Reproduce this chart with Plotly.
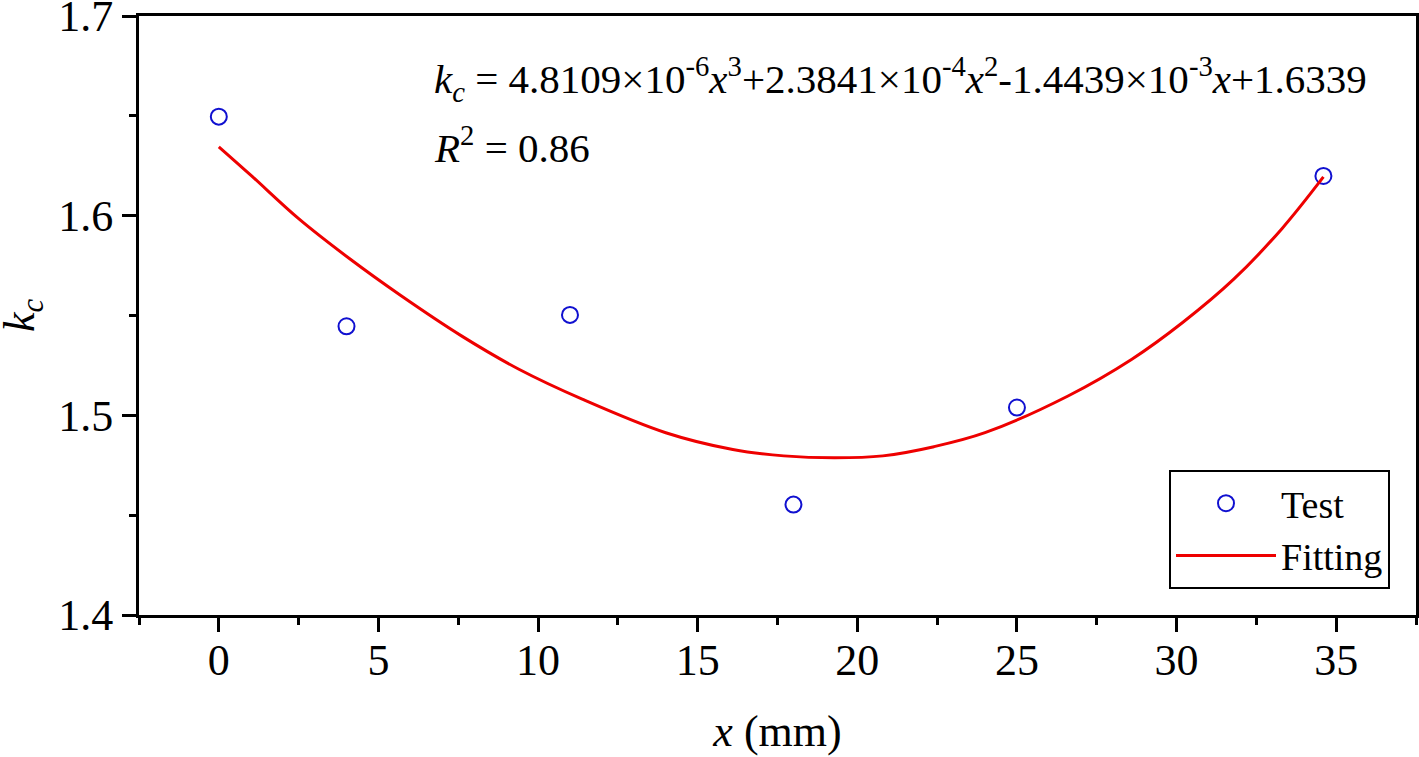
import plotly.graph_objects as go

# Test data
test_x = [0, 4, 11, 18, 25, 34.6]
test_y = [1.6496, 1.5446, 1.5503, 1.4553, 1.5039, 1.6199]

# Fitting curve
fit_x = [0, 1, 2.5, 4.1, 5.7, 7.6, 9.4, 11.4, 14.0, 16.1, 17.7, 19.3,
         20.8, 22.4, 24.0, 26.6, 28.6, 30.2, 31.8, 33.3, 34.6]
fit_y = [1.6345, 1.6203, 1.5985, 1.5784, 1.5600, 1.5398, 1.5231, 1.5080,
         1.4913, 1.4829, 1.4797, 1.4787, 1.4797, 1.4843, 1.4913, 1.5097,
         1.5281, 1.5466, 1.5683, 1.5935, 1.6194]

x_ticks = [0, 5, 10, 15, 20, 25, 30, 35]
y_ticks = [1.4, 1.5, 1.6, 1.7]
y_labels = ["1.4", "1.5", "1.6", "1.7"]

FONT = "Liberation Serif"

fig = go.Figure()
fig.add_trace(go.Scatter(
    x=test_x, y=test_y, mode="markers", name="Test",
    marker=dict(symbol="circle-open", size=16, color="#1010d0", line=dict(width=2, color="#1010d0")),
))
fig.add_trace(go.Scatter(
    x=fit_x, y=fit_y, mode="lines", name="Fitting",
    line=dict(color="#ee0000", width=3, shape="spline", smoothing=1.0),
))

fig.update_layout(
    width=1419, height=757, autosize=False,
    margin=dict(l=139, r=3, t=16, b=142),
    paper_bgcolor="white", plot_bgcolor="white",
    font=dict(family=FONT, size=44, color="black"),
    showlegend=True,
    legend=dict(
        x=(1169 - 139) / 1277, y=(615 - 470) / 599, xanchor="left", yanchor="top",
        bordercolor="black", borderwidth=2, bgcolor="white",
        font=dict(family=FONT, size=38, color="black"),
        itemwidth=100, tracegroupgap=0,
    ),
    xaxis=dict(
        range=[-2.5, 37.5], tickvals=x_ticks, automargin=False,
        showline=True, linecolor="black", linewidth=3, mirror=True,
        ticks="outside", ticklen=14, tickwidth=3, tickcolor="black",
        ticklabelstandoff=-10, ticklabeloverflow="allow",
        showgrid=False, zeroline=False,
        tickfont=dict(family=FONT, size=44),
        minor=dict(dtick=2.5, tick0=0, ticks="outside", ticklen=7, tickwidth=3, tickcolor="black", showgrid=False),
        title=dict(text="<i>x</i> (mm)", font=dict(family=FONT, size=44), standoff=32),
    ),
    yaxis=dict(
        range=[1.4, 1.7], tickvals=y_ticks, ticktext=y_labels, automargin=False,
        showline=True, linecolor="black", linewidth=3, mirror=True,
        ticks="outside", ticklen=14, tickwidth=3, tickcolor="black",
        ticklabeloverflow="allow",
        showgrid=False, zeroline=False,
        tickfont=dict(family=FONT, size=44),
        minor=dict(dtick=0.05, tick0=1.4, ticks="outside", ticklen=7, tickwidth=3, tickcolor="black", showgrid=False),
    ),
)

# y-axis title
fig.add_annotation(
    xref="paper", yref="paper", x=(22 - 139) / 1277, y=(615 - 315) / 599,
    xanchor="center", yanchor="middle", showarrow=False, textangle=-90,
    text="<i>k</i><sub><i>c</i></sub>",
    font=dict(family=FONT, size=44, color="black"),
)

fig.add_annotation(
    xref="paper", yref="paper", x=(432 - 139) / 1277, y=(615 - 79) / 599,
    xanchor="left", yanchor="middle", showarrow=False,
    text="<i>k</i><sub><i>c</i></sub> = 4.8109×10<sup>-6</sup><i>x</i><sup>3</sup>+2.3841×10<sup>-4</sup><i>x</i><sup>2</sup>-1.4439×10<sup>-3</sup><i>x</i>+1.6339",
    font=dict(family=FONT, size=41, color="black"),
)
fig.add_annotation(
    xref="paper", yref="paper", x=(432 - 139) / 1277, y=(615 - 145) / 599,
    xanchor="left", yanchor="middle", showarrow=False,
    text="<i>R</i><sup>2</sup> = 0.86",
    font=dict(family=FONT, size=41, color="black"),
)

fig.write_html("out.html", post_script="document.body.style.margin='0';",
               config={"displayModeBar": False})
